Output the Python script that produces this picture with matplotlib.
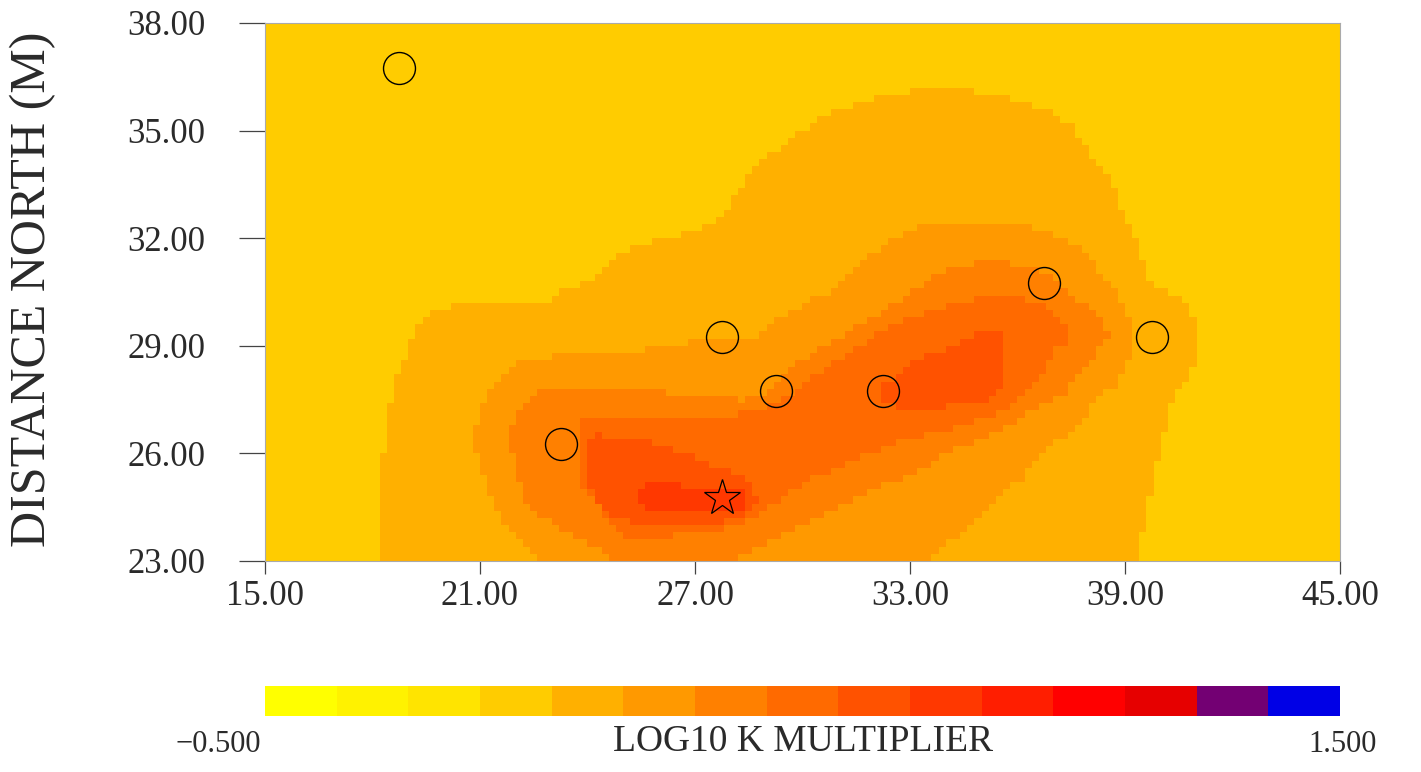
import matplotlib
matplotlib.use("Agg")
import matplotlib.pyplot as plt
import numpy as np
from matplotlib.colors import ListedColormap, BoundaryNorm
from matplotlib.path import Path
from matplotlib.colorbar import ColorbarBase

# colour scale: 15 equal bins between -0.5 and 1.5
VMIN, VMAX = -0.5, 1.5
BIN_COLORS = ["#FFFF00", "#FFF200", "#FFE400", "#FFCC00", "#FFB000",
              "#FF9900", "#FF8000", "#FF6A00", "#FF5200", "#FF3800",
              "#FF1E00", "#FF0000", "#E60000", "#730073", "#0000E6"]

# background band of the field and the outline of every higher band (x, y in m)
BACKGROUND_BAND = 3
BAND5 = [(18.15, 22.8), (18.15, 25.48), (18.40, 26.51), (18.54, 27.80), (18.91, 28.63),
         (19.10, 29.30), (19.27, 29.58), (19.52, 29.86), (20.08, 30.08), (20.39, 30.14),
         (22.81, 30.19), (23.18, 30.50), (23.57, 30.56), (24.29, 30.92), (24.68, 31.39),
         (25.05, 31.59), (25.41, 31.81), (26.39, 32.03), (27.28, 32.31), (27.75, 32.59),
         (28.03, 33.15), (28.59, 33.82), (28.95, 34.18), (29.51, 34.65), (30.13, 35.10),
         (30.85, 35.49), (31.75, 35.85), (32.67, 36.05), (33.48, 36.19), (33.98, 36.19),
         (35.09, 36.08), (35.65, 35.94), (36.21, 35.77), (36.96, 35.49), (37.52, 35.10),
         (37.89, 34.65), (38.16, 34.18), (38.53, 33.71), (38.81, 33.07), (39.09, 32.51),
         (39.36, 31.95), (39.56, 31.11), (39.78, 30.56), (40.17, 30.50), (40.34, 30.36),
         (40.73, 30.28), (40.90, 29.86), (40.90, 28.49), (40.68, 27.99), (40.34, 27.52),
         (40.17, 26.79), (39.98, 26.32), (39.84, 25.48), (39.62, 24.56), (39.42, 23.34),
         (39.42, 22.8)]
BAND6 = [(22.90, 22.8), (22.62, 23.17), (22.06, 23.53), (21.70, 24.00), (21.34, 24.65),
         (21.14, 25.29), (20.94, 25.85), (20.81, 26.51), (20.94, 27.07), (21.14, 27.52),
         (21.34, 27.91), (21.70, 28.27), (22.06, 28.60), (22.45, 28.63), (24.29, 28.83),
         (25.05, 28.83), (25.97, 28.97), (26.92, 29.11), (28.40, 29.19), (28.76, 29.30),
         (29.23, 29.66), (29.71, 29.94), (30.07, 30.22), (30.77, 30.50), (30.91, 30.64),
         (31.38, 31.03), (31.75, 31.39), (32.11, 31.67), (32.50, 31.95), (32.86, 32.15),
         (33.22, 32.31), (34.20, 32.45), (35.09, 32.45), (35.57, 32.42), (36.30, 32.31),
         (36.96, 32.15), (37.41, 31.95), (37.80, 31.67), (38.08, 31.39), (38.30, 31.03),
         (38.67, 30.56), (38.86, 30.31), (39.00, 29.94), (39.23, 29.75), (39.23, 29.30),
         (39.09, 28.63), (38.81, 27.99), (38.25, 27.52), (37.89, 27.07), (37.52, 26.60),
         (36.96, 26.32), (36.57, 25.85), (36.13, 25.29), (35.65, 24.93), (35.09, 24.45),
         (34.73, 24.00), (33.42, 22.97), (33.42, 22.8)]
BAND7 = [(24.85, 22.8), (24.29, 23.34), (23.74, 23.61), (23.18, 23.89), (22.81, 24.17),
         (22.45, 24.45), (22.26, 24.73), (22.06, 25.20), (21.89, 26.04), (21.70, 26.32),
         (21.89, 26.68), (22.06, 27.07), (22.26, 27.24), (22.48, 27.63), (22.73, 27.71),
         (23.74, 27.80), (25.05, 27.80), (26.02, 27.71), (27.14, 27.60), (28.26, 27.49),
         (28.87, 27.55), (29.37, 28.05), (29.93, 28.55), (30.77, 29.11), (31.61, 29.58),
         (32.30, 30.00), (33.06, 30.50), (33.62, 30.92), (34.34, 31.20), (35.09, 31.34),
         (35.65, 31.34), (36.49, 31.11), (36.96, 30.92), (37.33, 30.56), (37.61, 30.31),
         (37.89, 30.14), (38.16, 29.86), (38.44, 29.58), (38.50, 29.30), (38.30, 28.91),
         (38.08, 28.55), (37.69, 28.19), (37.33, 27.71), (36.96, 27.43), (36.21, 27.07),
         (35.85, 26.79), (35.29, 26.51), (34.54, 26.24), (33.78, 25.85), (33.14, 25.48),
         (32.50, 25.20), (31.75, 24.84), (30.99, 24.45), (30.27, 24.09), (29.51, 23.73),
         (28.76, 23.34), (28.12, 23.06), (28.12, 22.8)]
BAND8 = [(23.74, 27.07), (25.05, 27.07), (25.97, 26.96), (26.92, 27.07), (27.84, 27.07),
         (28.76, 27.16), (29.51, 27.52), (30.27, 28.08), (30.99, 28.63), (31.75, 29.11),
         (32.50, 29.58), (33.42, 29.94), (34.34, 30.22), (35.09, 30.33), (36.07, 30.33),
         (36.77, 30.22), (37.19, 29.75), (37.38, 29.58), (37.38, 29.11), (36.99, 28.83),
         (36.82, 28.35), (36.63, 27.99), (36.21, 27.71), (36.02, 27.43), (35.51, 27.16),
         (35.09, 26.96), (34.54, 26.79), (33.98, 26.65), (33.22, 26.46), (32.50, 26.24),
         (31.75, 25.96), (30.99, 25.62), (30.27, 25.29), (29.71, 24.93), (29.15, 24.56),
         (28.59, 24.17), (27.84, 23.89), (26.92, 23.81), (25.97, 23.61), (25.05, 23.61),
         (24.68, 24.00), (24.29, 24.56), (23.93, 25.01), (23.74, 25.48)]
BAND9_WEST = [(23.93, 26.24), (24.29, 26.51), (25.05, 26.40), (26.16, 26.24), (27.28, 25.76),
              (28.20, 25.40), (28.59, 25.12), (28.76, 24.73), (28.76, 24.56), (28.45, 24.34),
              (27.70, 24.06), (25.66, 23.95), (24.68, 24.28), (24.29, 24.56), (24.13, 24.98),
              (23.93, 25.48)]
BAND9_EAST = [(32.16, 27.91), (32.86, 28.27), (33.22, 28.63), (33.98, 28.91), (35.09, 29.39),
              (35.51, 29.39), (35.51, 27.71), (35.09, 27.49), (34.34, 27.35), (33.42, 27.21),
              (32.67, 27.24), (32.16, 27.49)]
BAND10 = [(25.41, 24.93), (25.66, 25.15), (26.16, 25.23), (26.58, 25.09), (27.14, 25.01),
          (27.84, 24.98), (28.31, 24.90), (28.40, 24.70), (28.31, 24.48), (27.70, 24.37),
          (26.58, 24.34), (25.75, 24.40), (25.41, 24.62)]
BAND_OUTLINES = [(4, BAND5), (5, BAND6), (6, BAND7), (7, BAND8),
                 (8, BAND9_WEST), (8, BAND9_EAST), (9, BAND10)]

# observation wells and pumping well
WELL_X = [18.75, 23.25, 27.75, 29.25, 32.25, 36.75, 39.75]
WELL_Y = [36.75, 26.25, 29.25, 27.75, 27.75, 30.75, 29.25]
PUMP_X, PUMP_Y = [27.75], [24.75]

XTICKS = [15, 21, 27, 33, 39, 45]
YTICKS = [23, 26, 29, 32, 35, 38]

FONT = ["Liberation Serif", "DejaVu Serif"]
TEXT_COLOR = "#2a2a2a"
plt.rcParams["font.family"] = FONT

# field on 0.2 m cells
cell = 0.2
xe = np.arange(15.0, 45.0 + cell / 2, cell)
ye = np.arange(23.0, 38.0 + cell / 2, cell)
xc, yc = np.meshgrid((xe[:-1] + xe[1:]) / 2, (ye[:-1] + ye[1:]) / 2)
pts = np.column_stack([xc.ravel(), yc.ravel()])
band = np.full(xc.size, BACKGROUND_BAND)
for level, poly in BAND_OUTLINES:
    inside = Path(poly).contains_points(pts)
    band[inside] = np.maximum(band[inside], level)
step = (VMAX - VMIN) / len(BIN_COLORS)
field = (VMIN + (band + 0.5) * step).reshape(xc.shape)

cmap = ListedColormap(BIN_COLORS)
norm = BoundaryNorm(np.linspace(VMIN, VMAX, len(BIN_COLORS) + 1), cmap.N)

W, H = 1421, 772
fig = plt.figure(figsize=(W / 100, H / 100), dpi=100)
ax = fig.add_axes([265 / W, 1 - 561 / H, 1075 / W, 538 / H])
ax.pcolormesh(xe, ye, field, cmap=cmap, norm=norm, shading="flat")
ax.plot(WELL_X, WELL_Y, "o", ms=23, mfc="none", mec="black", mew=1.0)
ax.plot(PUMP_X, PUMP_Y, "*", ms=27, mfc="none", mec="black", mew=0.9)
ax.set_xlim(15, 45)
ax.set_ylim(23, 38)
ax.set_xticks(XTICKS)
ax.set_yticks(YTICKS)
ax.set_xticklabels([f"{t:.2f}" for t in XTICKS])
ax.set_yticklabels([f"{t:.2f}" for t in YTICKS])
ax.tick_params(axis="y", length=19, width=0.9, color="#444444", pad=24,
               labelsize=25, labelcolor=TEXT_COLOR)
ax.tick_params(axis="x", length=9, width=0.9, color="#444444", pad=5,
               labelsize=25, labelcolor=TEXT_COLOR)
for s in ax.spines.values():
    s.set_color("#aaaaaa")
    s.set_linewidth(0.8)

fig.text(33 / W, 1 - 289 / H, "DISTANCE NORTH (M)", rotation=90, ha="center",
         va="center", fontsize=36, color=TEXT_COLOR)

cax = fig.add_axes([265 / W, 1 - 716 / H, 1075 / W, 30 / H])
cb = ColorbarBase(cax, cmap=cmap, norm=norm, orientation="horizontal")
cb.outline.set_visible(False)
cb.set_ticks([])
cax.minorticks_off()
cax.tick_params(which="both", length=0, labelbottom=False, labelleft=False)

fig.text(218 / W, 1 - 745 / H, "\u22120.500", ha="center", va="center",
         fontsize=22, color=TEXT_COLOR)
fig.text(1343 / W, 1 - 745 / H, "1.500", ha="center", va="center",
         fontsize=22, color=TEXT_COLOR)
fig.text(803 / W, 1 - 742 / H, "LOG10 K MULTIPLIER", ha="center", va="center",
         fontsize=27, color=TEXT_COLOR)

fig.savefig("out.png", dpi=100)
